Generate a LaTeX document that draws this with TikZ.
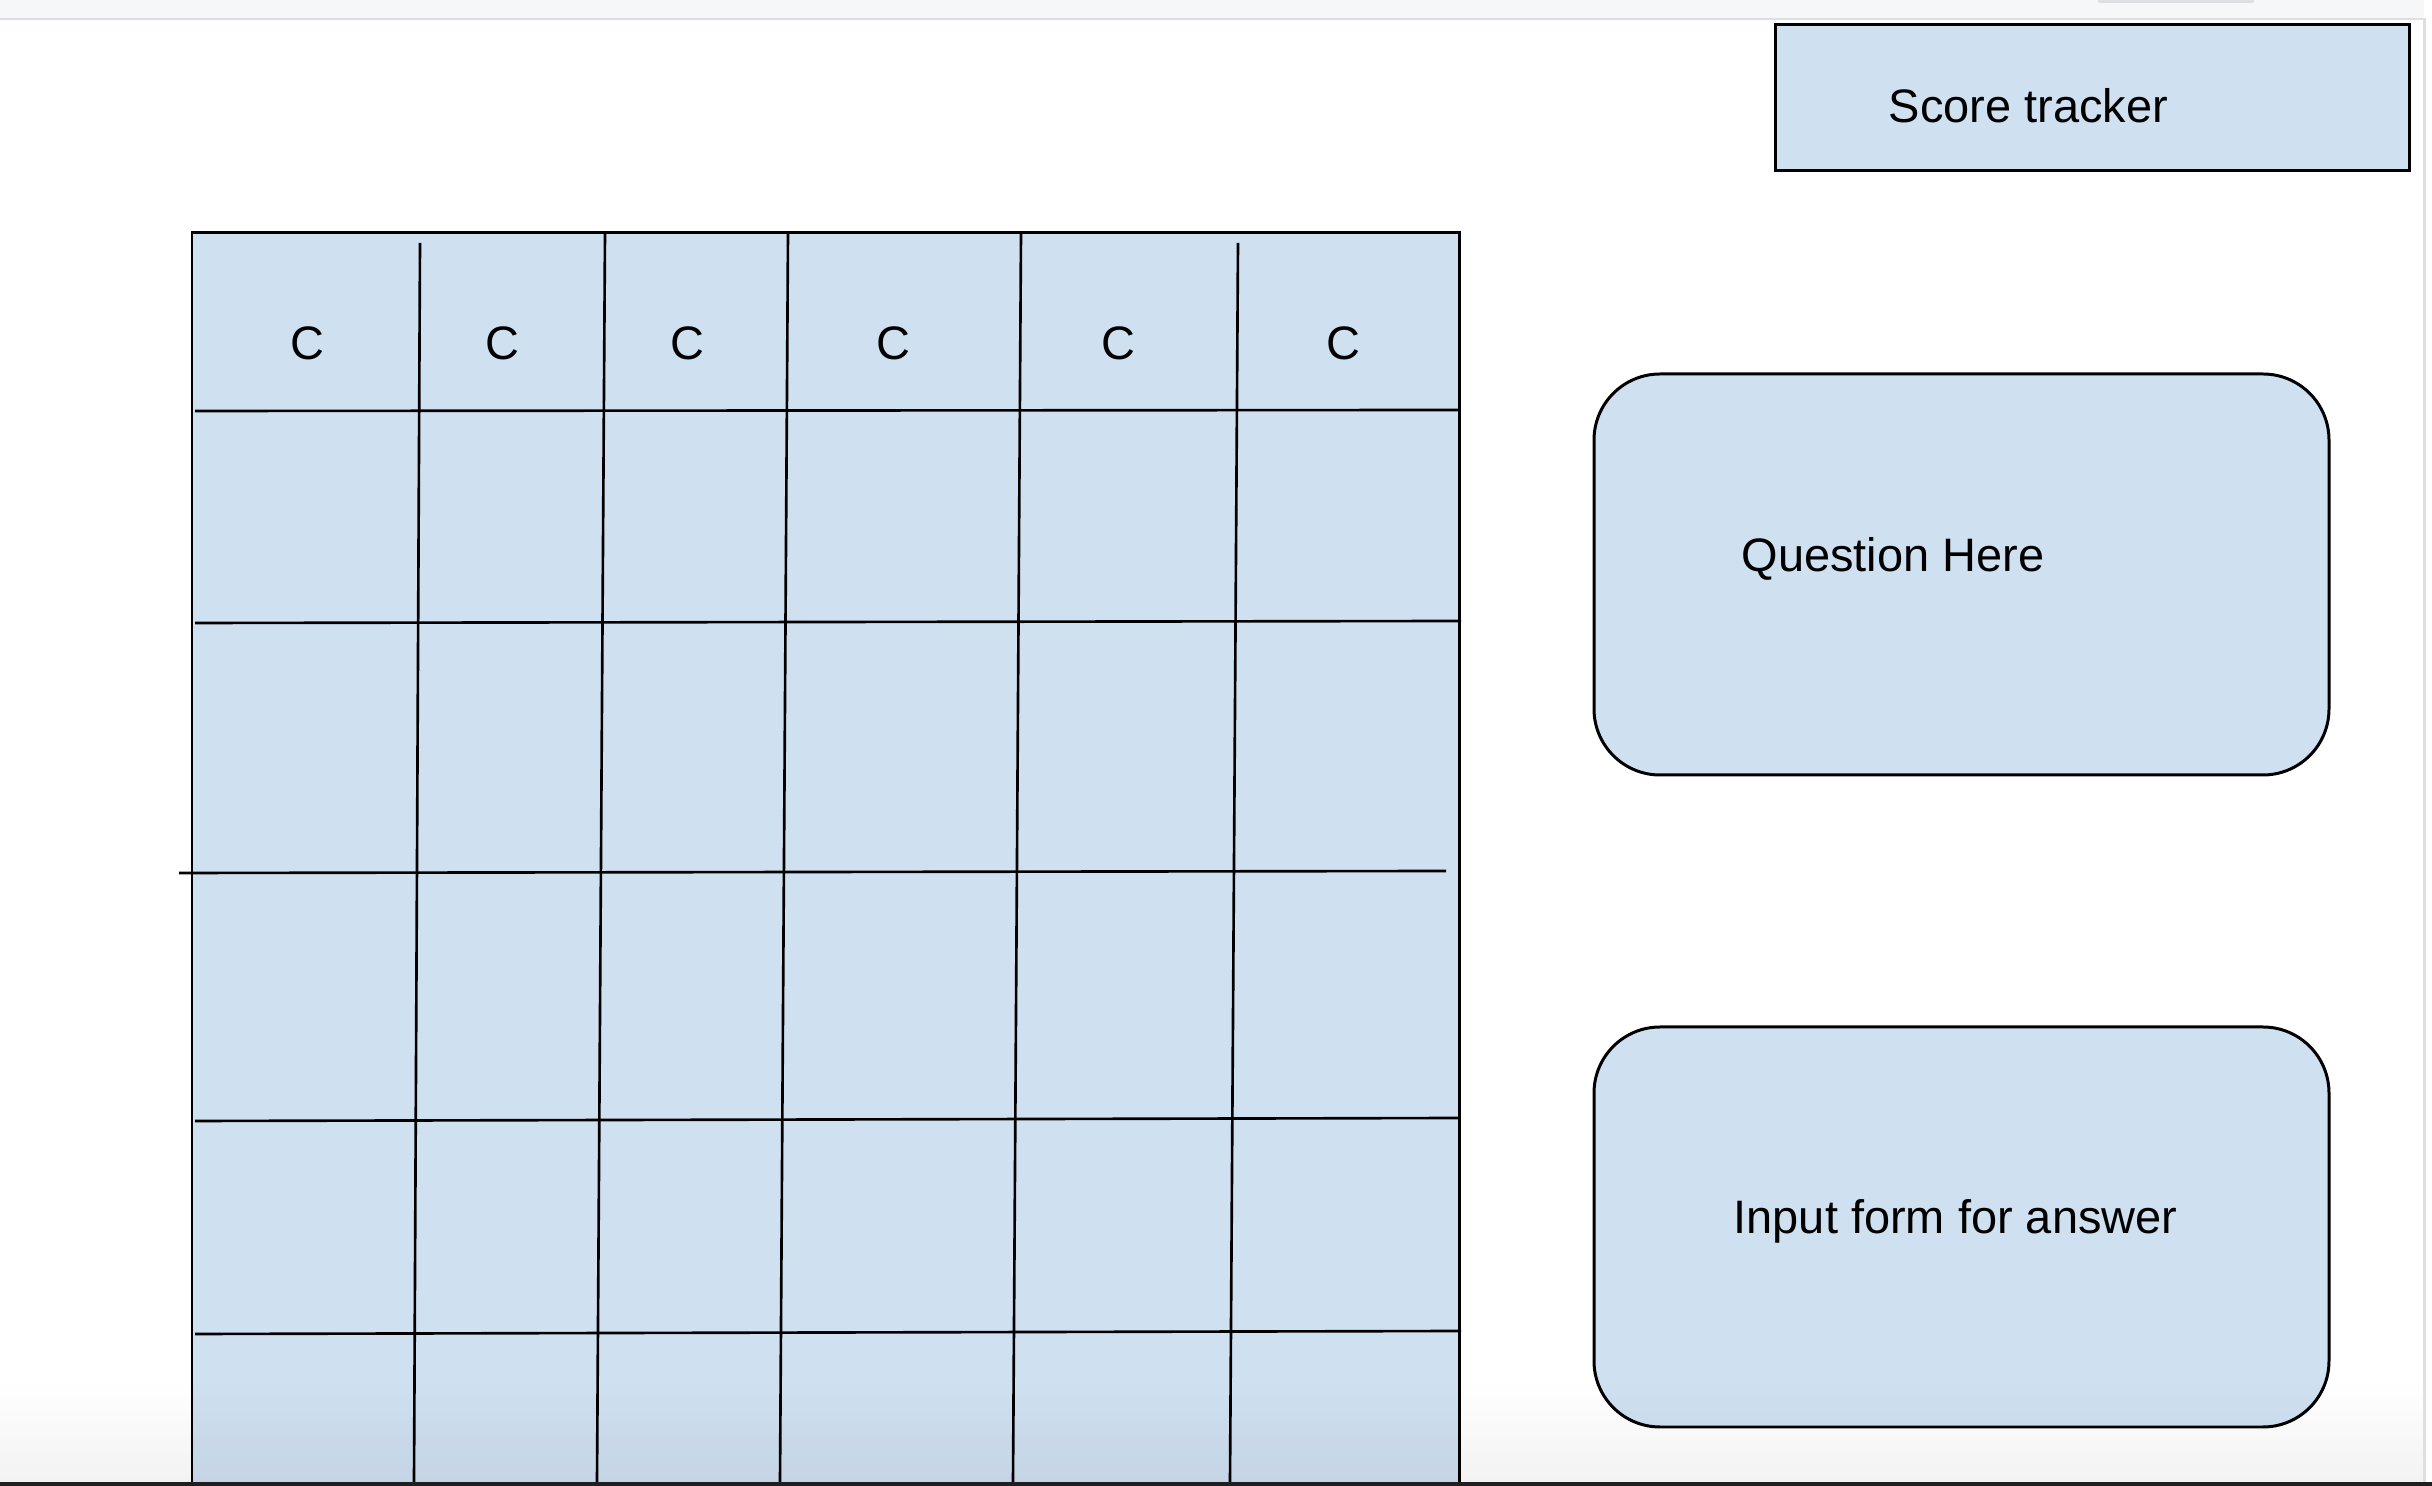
\documentclass[tikz,border=0pt]{standalone}
\usepackage{fontspec}
\setmainfont{Liberation Sans}
\usepackage{tikz}
\definecolor{cell}{RGB}{207,224,241}
\definecolor{barbg}{RGB}{246,247,249}
\definecolor{barline}{RGB}{221,223,227}
\newcommand{\drawthin}{\draw[line width=0.75pt]}
\newcommand{\panelfont}{\fontsize{13.35}{16}\selectfont}
\newcommand{\headerletter}[2]{\node[anchor=base, boxtext] (head#2) at (#1,360) {C};}
\tikzset{
  panel/.style={draw=black, fill=cell, line width=0.85pt},
  boxtext/.style={inner sep=0pt, font=\panelfont}
}

\begin{document}
\begin{tikzpicture}[x=0.01cm,y=-0.01cm]
\useasboundingbox (0,0) rectangle (2432,1486);
\fill[white] (0,0) rectangle (2432,1486);
% browser bar
\fill[barbg] (0,0) rectangle (2424,18);
\fill[barline] (0,18) rectangle (2424,20);
\fill[barline, rounded corners=0.02cm] (2098,-5) rectangle (2254,3);
\fill[barline] (2423,18) rectangle (2426,1482);
% board
\fill[cell] (192,233) rectangle (1459.5,1482);
\foreach \xt/\xb/\yt in {420/414/243, 605/597/233, 788/780/233, 1021/1013/233, 1238/1230/243}{
  \drawthin (\xt,\yt)--(\xb,1482);
}
\foreach \xl/\yl/\xr/\yr in {195/411/1460/410, 195/623/1461/621, 179/873/1446/871, 195/1121/1460/1118, 195/1334/1461/1331}{
  \drawthin (\xl,\yl)--(\xr,\yr);
}
\draw[line width=0.85pt] (192,1482)--(192,233)--(1459.5,233)--(1459.5,1482);
\headerletter{307}{1}\headerletter{502.5}{2}\headerletter{687}{3}\headerletter{893.5}{4}\headerletter{1118.5}{5}\headerletter{1343}{6}
% side panels
\draw[panel] (1775,25) rectangle (2409,171);
\node[boxtext, anchor=base west] (score) at (1888,122.5) {Score tracker};
\draw[panel, rounded corners=0.66cm] (1594,374) rectangle (2329,775);
\node[boxtext, anchor=base west] (question) at (1741,571.5) {Question Here};
\draw[panel, rounded corners=0.66cm] (1594,1027) rectangle (2329,1427);
\node[boxtext, anchor=base west] (answer) at (1733,1234) {Input form for answer};
% screen edge
\foreach \i [evaluate=\i as \op using 0.0025*\i] in {1,...,20}{
  \fill[black, fill opacity=\op] (0,1380+5*\i) rectangle (2423,1385+5*\i);
}
\fill[black!88] (0,1482) rectangle (2432,1486);
\end{tikzpicture}
\end{document}
